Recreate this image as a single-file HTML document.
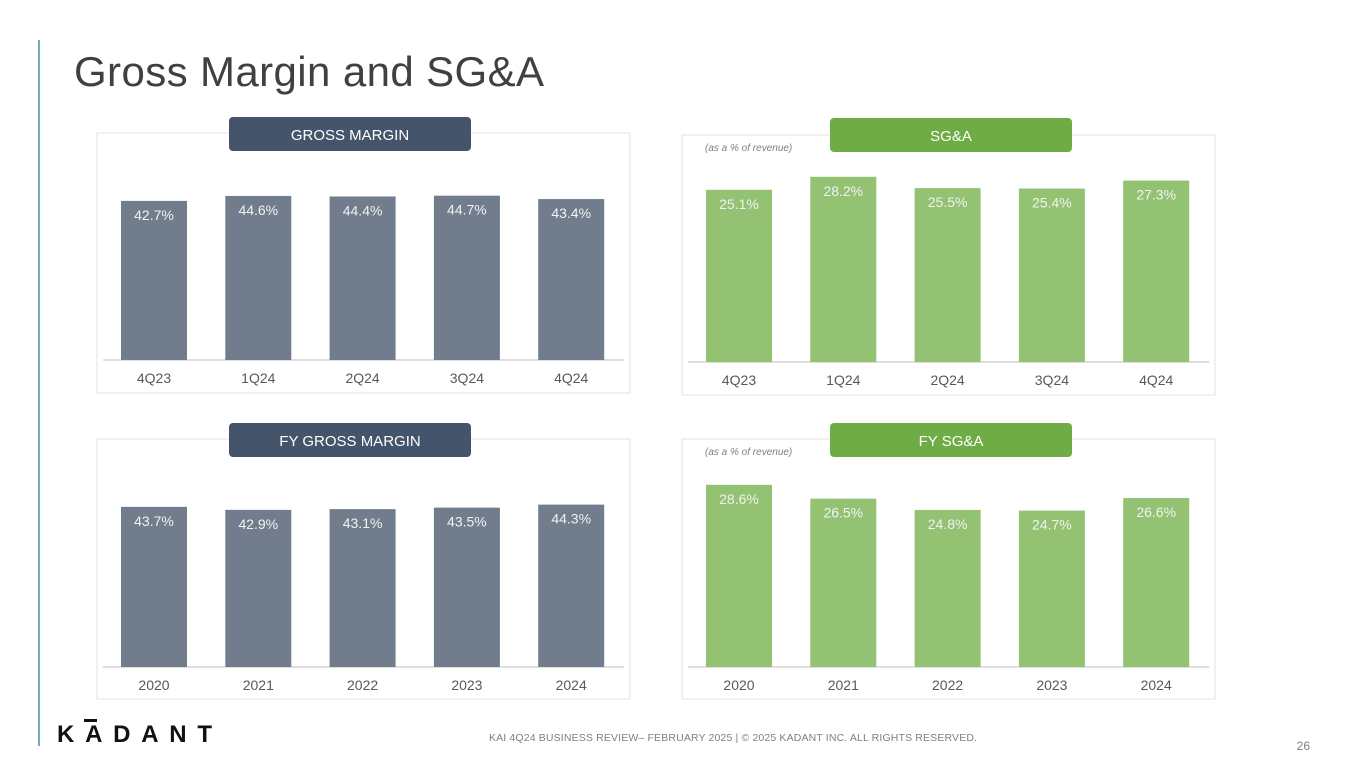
<!DOCTYPE html>
<html><head><meta charset="utf-8"><style>
body{margin:0;width:1365px;height:768px;background:#fff;overflow:hidden;font-family:"Liberation Sans",sans-serif;}
</style></head><body>
<svg id="s" width="1365" height="768" style="position:absolute;left:0;top:0">
<line x1="39" y1="40" x2="39" y2="746" stroke="#4a90a4" stroke-width="1.5"/>
<text x="74" y="86" font-size="42" fill="#404040" textLength="470" font-family="Liberation Sans, sans-serif">Gross Margin and SG&amp;A</text>
<g>
<text x="57" y="742" font-size="24" font-weight="bold" fill="#111" textLength="155">KADANT</text>
<rect x="84" y="719" width="13" height="3" fill="#111"/>
</g>
<text x="733" y="741" font-size="10.5" fill="#7f7f7f" text-anchor="middle" textLength="488">KAI 4Q24 BUSINESS REVIEW– FEBRUARY 2025 | © 2025 KADANT INC. ALL RIGHTS RESERVED.</text>
<text x="1310" y="750" font-size="12" fill="#7f7f7f" text-anchor="end">26</text>
</svg>
<script>
const qCats=["4Q23","1Q24","2Q24","3Q24","4Q24"];
const fyCats=["2020","2021","2022","2023","2024"];
const gmQ=[42.7,44.6,44.4,44.7,43.4];
const sgaQ=[25.1,28.2,25.5,25.4,27.3];
const gmFY=[43.7,42.9,43.1,43.5,44.3];
const sgaFY=[28.6,26.5,24.8,24.7,26.6];
const svg=document.getElementById('s');
const NS='http://www.w3.org/2000/svg';
function mk(tag,attrs,parent){const e=document.createElementNS(NS,tag);for(const k in attrs)e.setAttribute(k,attrs[k]);(parent||svg).appendChild(e);return e;}
function chart(name,x0,y0,base,cats,vals,pxPer,v0,color,pillColor,title,note,pillX,pillY){
 const g=mk('g',{});
 
 
 const box=mk('rect',{x:x0,y:y0,width:533,height:260,fill:'none',stroke:'#e3e3e3'},g);
 
 
 const pill=mk('rect',{x:pillX,y:pillY,width:242,height:34,rx:4,fill:pillColor},g);
 
 
 const pt=mk('text',{x:pillX+121,y:pillY+23,'font-size':15,fill:'#fff','text-anchor':'middle'},g);
 pt.textContent=title;
 
 
 if(note){const n=mk('text',{x:x0+23,y:y0+16,'font-size':10,'font-style':'italic',fill:'#7f7f7f'},g);n.textContent=note;
  
  }
 const ax=mk('line',{x1:x0+6,x2:x0+527,y1:base,y2:base,stroke:'#bfbfbf'},g);
 
 
 const step=104.3;
 cats.forEach((c,i)=>{
  const cx=x0+57+i*step;
  const h=(vals[i]-v0)*pxPer;
  const b=mk('rect',{x:cx-33,y:base-h,width:66,height:h,fill:color},g);
  
  
  const l=mk('text',{x:cx,y:base-h+19,'font-size':14,fill:'#f2f2f2','text-anchor':'middle'},g);
  l.textContent=vals[i].toFixed(1)+'%';
  
  
  const t=mk('text',{x:cx,y:base+23,'font-size':14,fill:'#595959','text-anchor':'middle'},g);
  t.textContent=c;
  
  
 });
}
chart('gross-margin-chart',97,133,360,qCats,gmQ,2.6,-18.5,'#717d8c','#44546a','GROSS MARGIN','',229,117);
chart('sga-chart',682,135,362,qCats,sgaQ,4.2,-15.9,'#93c273','#6fac46','SG&A','(as a % of revenue)',830,118);
chart('fy-gross-margin-chart',97,439,667,fyCats,gmFY,3.75,1.0,'#717d8c','#44546a','FY GROSS MARGIN','',229,423);
chart('fy-sga-chart',682,439,667,fyCats,sgaFY,6.6,1.0,'#93c273','#6fac46','FY SG&A','(as a % of revenue)',830,423);
</script>
</body></html>
